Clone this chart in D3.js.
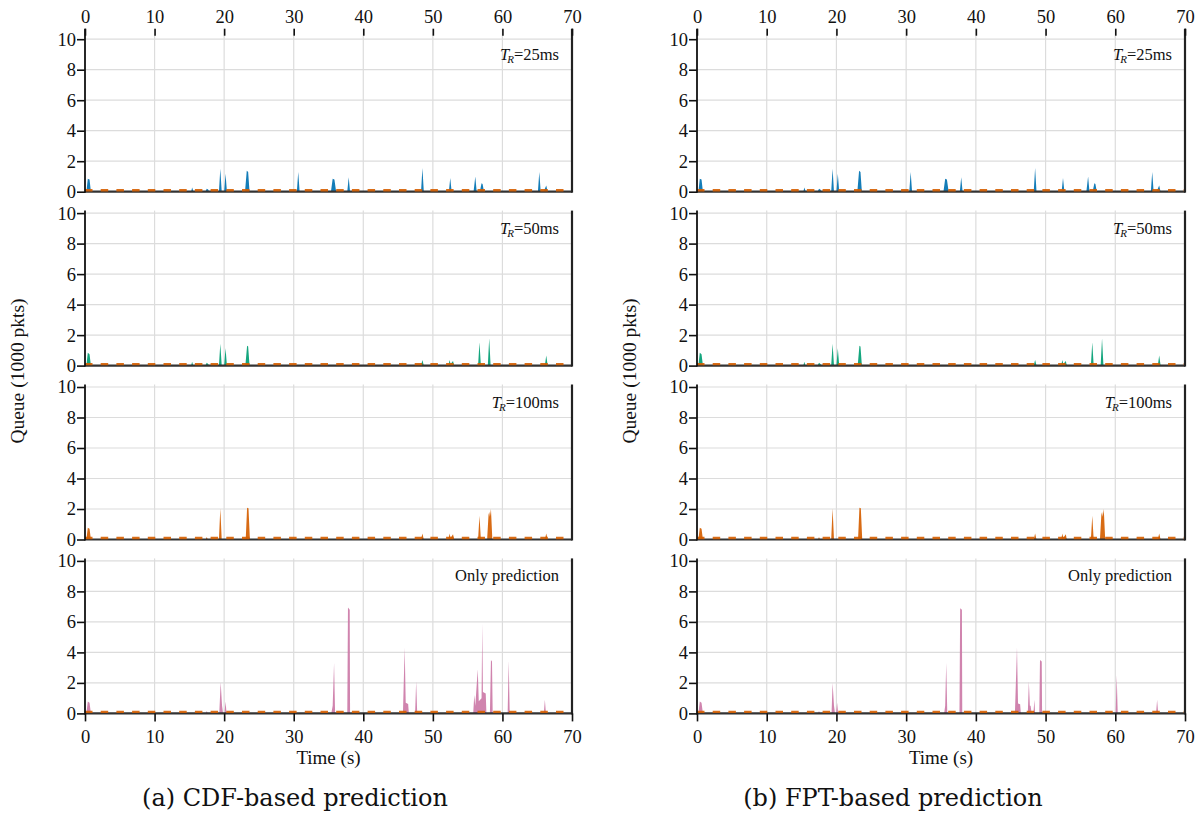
<!DOCTYPE html>
<html>
<head>
<meta charset="utf-8">
<script src="https://cdn.jsdelivr.net/npm/d3@7"></script>
<style>
  body { margin: 0; background: #fff; }
  svg text { font-family: "Liberation Serif", "Times New Roman", serif; fill: #111; }
</style>
</head>
<body>
<div id="chart"></div>
<script>
// Axis ticks and labels
const xTicks = [0, 10, 20, 30, 40, 50, 60, 70];
const yTicks = [0, 2, 4, 6, 8, 10];
const trLabels = ["25ms", "50ms", "100ms"];
const onlyLabel = "Only prediction";
const captions = ["(a) CDF-based prediction", "(b) FPT-based prediction"];
const seriesColors = ["#0072b2", "#009e73", "#d55e00", "#cc79a7"];
const thresholdQueue = 0.1; // dashed reference level (1000 pkts)

// Queue length (1000 pkts) over time (s)
const tr25 = [
  [0, 0], [0.2, 0], [0.4, 0.85], [0.65, 0.8], [0.85, 0],
  [15.25, 0], [15.4, 0.27], [15.6, 0],
  [17.3, 0], [17.5, 0.2], [17.7, 0.15], [17.85, 0],
  [19.25, 0], [19.45, 1.5], [19.65, 0],
  [20.0, 0], [20.2, 1.18], [20.4, 0],
  [23.0, 0], [23.25, 1.38], [23.45, 1.3], [23.65, 0],
  [30.45, 0], [30.65, 1.3], [30.85, 0],
  [35.35, 0], [35.6, 0.85], [35.85, 0.8], [36.1, 0],
  [37.7, 0], [37.9, 0.95], [38.1, 0],
  [48.3, 0], [48.5, 1.55], [48.7, 0],
  [52.3, 0], [52.5, 0.9], [52.7, 0],
  [55.85, 0], [56.1, 1.0], [56.3, 0],
  [56.75, 0], [57.0, 0.55], [57.15, 0.5], [57.35, 0],
  [65.1, 0], [65.3, 1.3], [65.5, 0],
  [65.9, 0], [66.1, 0.2], [66.3, 0.4], [66.5, 0],
  [70, 0]
];

const tr50 = [
  [0, 0], [0.2, 0], [0.4, 0.84], [0.65, 0.75], [0.85, 0],
  [15.25, 0], [15.4, 0.26], [15.55, 0],
  [17.3, 0], [17.5, 0.18], [17.7, 0.1], [17.85, 0],
  [19.25, 0], [19.45, 1.43], [19.65, 0],
  [20.0, 0], [20.2, 1.14], [20.4, 0],
  [23.05, 0], [23.3, 1.3], [23.45, 1.25], [23.65, 0],
  [48.3, 0], [48.5, 0.37], [48.7, 0],
  [52.25, 0], [52.4, 0.37], [52.55, 0.1], [52.9, 0.3], [53.05, 0],
  [56.5, 0], [56.7, 1.53], [56.9, 0],
  [57.9, 0], [58.1, 1.8], [58.3, 0],
  [66.1, 0], [66.3, 0.66], [66.5, 0],
  [70, 0]
];

const tr100 = [
  [0, 0], [0.2, 0], [0.4, 0.77], [0.65, 0.7], [0.85, 0],
  [17.35, 0], [17.5, 0.17], [17.65, 0],
  [19.25, 0], [19.45, 2.04], [19.65, 0],
  [23.1, 0], [23.3, 2.09], [23.5, 2.05], [23.7, 0],
  [48.3, 0], [48.5, 0.4], [48.7, 0],
  [52.25, 0], [52.4, 0.4], [52.55, 0.1], [52.9, 0.35], [53.05, 0],
  [56.5, 0], [56.7, 1.55], [56.9, 0],
  [57.8, 0], [58.0, 1.6], [58.1, 1.8], [58.2, 1.5], [58.35, 2.0], [58.55, 0],
  [66.1, 0], [66.3, 0.4], [66.5, 0],
  [70, 0]
];

const cdfOnly = [
  [0, 0], [0.2, 0], [0.4, 0.78], [0.65, 0.7], [0.85, 0],
  [17.35, 0], [17.5, 0.15], [17.65, 0],
  [19.3, 0], [19.5, 2.05], [19.7, 0.5], [19.85, 0],
  [20.05, 0], [20.2, 0.78], [20.35, 0],
  [35.4, 0], [35.6, 0.5], [35.8, 3.3], [35.95, 0],
  [37.7, 0], [37.8, 6.95], [38.05, 6.8], [38.1, 0],
  [45.7, 0], [45.95, 4.3], [46.1, 0.7], [46.45, 0.62], [46.55, 0],
  [47.45, 0], [47.6, 2.1], [47.75, 0],
  [55.8, 0], [55.95, 1.2], [56.1, 0.5], [56.45, 2.9], [56.6, 0.8], [57.0, 1.0],
  [57.1, 5.9], [57.2, 1.4], [57.6, 1.3], [57.7, 0],
  [58.2, 0], [58.35, 3.5], [58.5, 3.4], [58.6, 0],
  [60.75, 0], [60.9, 3.45], [61.05, 0],
  [65.95, 0], [66.1, 0.9], [66.25, 0],
  [70, 0]
];

const fptOnly = [
  [0, 0], [0.2, 0], [0.4, 0.78], [0.65, 0.7], [0.85, 0],
  [17.35, 0], [17.5, 0.15], [17.65, 0],
  [19.3, 0], [19.45, 2.0], [19.65, 0.5], [19.8, 0],
  [19.95, 0], [20.1, 0.7], [20.25, 0],
  [35.45, 0], [35.6, 0.5], [35.75, 3.3], [35.9, 0],
  [37.65, 0], [37.75, 6.9], [38.0, 6.8], [38.05, 0],
  [45.6, 0], [45.9, 4.3], [46.05, 0.65], [46.35, 0.6], [46.45, 0],
  [47.45, 0], [47.6, 2.1], [47.75, 0.5], [47.85, 0.5], [48.0, 0],
  [48.25, 0], [48.4, 0.9], [48.5, 0],
  [49.1, 0], [49.2, 3.5], [49.45, 3.4], [49.5, 0],
  [60.05, 0], [60.2, 2.5], [60.35, 0],
  [65.85, 0], [66.0, 0.9], [66.15, 0],
  [70, 0]
];

// Layout
const W = 1200, H = 816;
const firstBase = 191.7, panelStep = 173.9, plotH = 152.5;

const columns = [
  { left: 85, right: 572, labelX: 24, captionX: 295, caption: captions[0],
    series: [tr25, tr50, tr100, cdfOnly] },
  { left: 697, right: 1185, labelX: 636, captionX: 893, caption: captions[1],
    series: [tr25, tr50, tr100, fptOnly] }
];

const svg = d3.select("#chart").append("svg")
  .attr("width", W)
  .attr("height", H);

function styleTicks(sel) {
  sel.select(".domain").remove();
  sel.selectAll("line").attr("stroke", "#111").attr("stroke-width", 1.6);
  sel.selectAll("text")
    .style("font-family", "'Liberation Serif', serif")
    .style("font-size", "18.5px")
    .attr("fill", "#111");
}

columns.forEach((col) => {
  const x = d3.scaleLinear().domain([0, 70]).range([col.left, col.right]);

  col.series.forEach((data, i) => {
    const base = firstBase + i * panelStep;
    const y = d3.scaleLinear().domain([0, 10]).range([base, base - plotH]);
    const top = i === 0 ? base - 163 : base - 155;
    const g = svg.append("g");

    // grid
    g.selectAll(".hgrid").data(yTicks.filter((d) => d > 0)).enter()
      .append("line")
      .attr("x1", col.left).attr("x2", col.right)
      .attr("y1", (d) => y(d)).attr("y2", (d) => y(d))
      .attr("stroke", "#dcdcdc").attr("stroke-width", 1.2);
    g.selectAll(".vgrid").data(xTicks.slice(1, -1)).enter()
      .append("line")
      .attr("x1", (d) => x(d)).attr("x2", (d) => x(d))
      .attr("y1", top).attr("y2", base)
      .attr("stroke", "#dcdcdc").attr("stroke-width", 1.2);

    // queue area
    const area = d3.area()
      .x((d) => x(d[0]))
      .y0(y(0))
      .y1((d) => y(d[1]));
    g.append("path")
      .datum(data)
      .attr("d", area)
      .attr("fill", seriesColors[i])
      .attr("fill-opacity", 0.92);

    // baseline, dashed reference, frame lines
    g.append("line")
      .attr("x1", col.left).attr("x2", col.right)
      .attr("y1", base).attr("y2", base)
      .attr("stroke", "#333").attr("stroke-width", 2.2);
    g.append("line")
      .attr("x1", x(0)).attr("x2", x(70))
      .attr("y1", y(thresholdQueue)).attr("y2", y(thresholdQueue))
      .attr("stroke", "#d55e00").attr("stroke-width", 2.4)
      .attr("stroke-dasharray", "7.5 8.2")
      .attr("stroke-opacity", 0.9);
    g.append("line")
      .attr("x1", col.left).attr("x2", col.left)
      .attr("y1", top).attr("y2", base + 1)
      .attr("stroke", "#111").attr("stroke-width", 1.8);
    g.append("line")
      .attr("x1", col.right).attr("x2", col.right)
      .attr("y1", top).attr("y2", base + 1)
      .attr("stroke", "#222").attr("stroke-width", 2.2);

    // y axis
    g.append("g")
      .attr("transform", `translate(${col.left},0)`)
      .call(d3.axisLeft(y).tickValues(yTicks).tickSize(8).tickPadding(1))
      .call(styleTicks);

    // top axis on the first panel
    if (i === 0) {
      g.append("g")
        .attr("transform", `translate(0,${top})`)
        .call(d3.axisTop(x).tickValues(xTicks).tickSizeInner(-7).tickSizeOuter(0).tickPadding(6))
        .call(styleTicks);
    }

    // bottom axis on the last panel
    if (i === col.series.length - 1) {
      g.append("g")
        .attr("transform", `translate(0,${base})`)
        .call(d3.axisBottom(x).tickValues(xTicks).tickSize(8).tickPadding(8))
        .call(styleTicks);
    }

    // panel label
    const label = g.append("text")
      .attr("x", col.right - 13)
      .attr("y", base - 132)
      .attr("text-anchor", "end")
      .style("font-size", "16.5px");
    if (i < trLabels.length) {
      label.append("tspan").style("font-style", "italic").text("T");
      label.append("tspan").style("font-style", "italic").style("font-size", "11px")
        .attr("dx", -2).attr("dy", 3).text("R");
      label.append("tspan").attr("dy", -3).text("=" + trLabels[i]);
    } else {
      label.text(onlyLabel);
    }
  });

  // axis titles and caption
  const lastBase = firstBase + (col.series.length - 1) * panelStep;
  svg.append("text")
    .attr("x", (col.left + col.right) / 2)
    .attr("y", lastBase + 51)
    .attr("text-anchor", "middle")
    .style("font-size", "19px")
    .text("Time (s)");

  svg.append("text")
    .attr("transform", `translate(${col.labelX},${(firstBase - 163 + lastBase) / 2}) rotate(-90)`)
    .attr("text-anchor", "middle")
    .style("font-size", "19.5px")
    .text("Queue (1000 pkts)");

  svg.append("text")
    .attr("x", col.captionX)
    .attr("y", 806)
    .attr("text-anchor", "middle")
    .style("font-family", "'DejaVu Serif', serif")
    .style("font-size", "24px")
    .text(col.caption);
});
</script>
</body>
</html>
